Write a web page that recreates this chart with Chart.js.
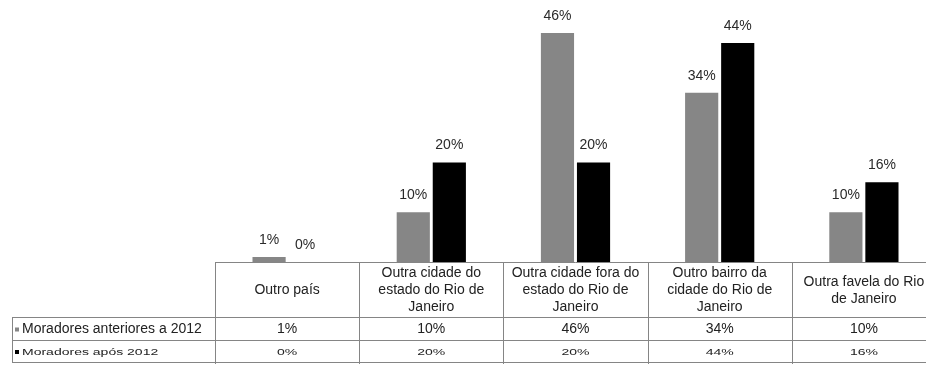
<!DOCTYPE html>
<html>
<head>
<meta charset="utf-8">
<script src="https://cdn.jsdelivr.net/npm/chart.js@4/dist/chart.umd.min.js"></script>
<style>
  html, body { margin: 0; padding: 0; overflow: hidden; background: #fff; }
  #wrap { width: 940px; height: 365px; }
</style>
</head>
<body>
<div id="wrap"><canvas id="c" width="940" height="365"></canvas></div>
<script>
// Origem dos moradores
const categories = [
  "Outro país",
  "Outra cidade do estado do Rio de Janeiro",
  "Outra cidade fora do estado do Rio de Janeiro",
  "Outro bairro da cidade do Rio de Janeiro",
  "Outra favela do Rio de Janeiro"
];
const seriesNames = ["Moradores anteriores a 2012", "Moradores após 2012"];
const before2012 = [1, 10, 46, 34, 10];
const after2012 = [0, 20, 20, 44, 16];
const seriesColors = ["#868686", "#000000"];

const FONT = "Liberation Sans, Arial, sans-serif";
const pct = v => v + "%";

function wrapText(ctx, text, maxW) {
  const words = text.split(" ");
  const lines = [];
  let cur = "";
  for (const w of words) {
    const test = cur ? cur + " " + w : w;
    if (cur && ctx.measureText(test).width > maxW) {
      lines.push(cur);
      cur = w;
    } else {
      cur = test;
    }
  }
  if (cur) lines.push(cur);
  return lines;
}

// value labels above each bar
const valueLabels = {
  id: "valueLabels",
  afterDatasetsDraw(chart) {
    const ctx = chart.ctx;
    ctx.save();
    ctx.font = "14px " + FONT;
    ctx.fillStyle = "#2a2a2a";
    ctx.textAlign = "center";
    ctx.textBaseline = "alphabetic";
    chart.data.datasets.forEach((ds, di) => {
      chart.getDatasetMeta(di).data.forEach((el, i) => {
        ctx.fillText(pct(ds.data[i]), el.x, el.y - 13);
      });
    });
    ctx.restore();
  }
};

// data table under the plot, columns aligned on the category scale
const dataTable = {
  id: "dataTable",
  afterDraw(chart) {
    const { ctx, chartArea } = chart;
    const x = chart.scales.x;
    const n = categories.length;
    const colW = (x.right - x.left) / n;
    const top = chartArea.bottom;
    const rowY = [top, top + 55, top + 78, top + 100];
    const legendLeft = 12;
    const right = x.right;

    ctx.save();
    ctx.strokeStyle = "#858585";
    ctx.lineWidth = 1;
    const hline = (x0, x1, y) => {
      ctx.beginPath(); ctx.moveTo(x0, Math.round(y) + 0.5); ctx.lineTo(x1, Math.round(y) + 0.5); ctx.stroke();
    };
    const vline = (xx, y0, y1) => {
      ctx.beginPath(); ctx.moveTo(Math.round(xx) + 0.5, y0); ctx.lineTo(Math.round(xx) + 0.5, y1); ctx.stroke();
    };
    hline(x.left, right, rowY[0]);
    hline(legendLeft, right, rowY[1]);
    hline(legendLeft, right, rowY[2]);
    hline(legendLeft, right, rowY[3]);
    vline(legendLeft, rowY[1], rowY[3]);
    for (let i = 0; i <= n; i++) {
      vline(x.left + i * colW, rowY[0], rowY[3] + 2);
    }

    ctx.fillStyle = "#222";
    ctx.font = "14px " + FONT;
    ctx.textAlign = "center";
    ctx.textBaseline = "middle";

    // header: category names, wrapped to the column width
    const headMid = (rowY[0] + rowY[1]) / 2 + 1;
    const lh = 17;
    categories.forEach((cat, i) => {
      const cx = x.getPixelForValue(i);
      const lines = wrapText(ctx, cat, colW - 8);
      const y0 = headMid - (lines.length - 1) * lh / 2;
      lines.forEach((ln, k) => ctx.fillText(ln, cx, y0 + k * lh));
    });

    // series rows
    const series = [before2012, after2012];
    const squash = [1, 0.68];
    series.forEach((vals, r) => {
      const mid = (rowY[r + 1] + rowY[r + 2]) / 2 + 1;
      const sy = squash[r];
      // legend key + name
      ctx.fillStyle = seriesColors[r];
      ctx.fillRect(legendLeft + 3, mid - 2, 4, 4);
      ctx.fillStyle = "#222";
      ctx.save();
      ctx.translate(legendLeft + 10, mid);
      ctx.scale(1, sy);
      ctx.textAlign = "left";
      ctx.fillText(seriesNames[r], 0, 0);
      ctx.restore();
      vals.forEach((v, i) => {
        ctx.save();
        ctx.translate(x.getPixelForValue(i), mid);
        ctx.scale(1, sy);
        ctx.fillText(pct(v), 0, 0);
        ctx.restore();
      });
    });
    ctx.restore();
  }
};

new Chart(document.getElementById("c"), {
  type: "bar",
  data: {
    labels: categories,
    datasets: [
      { label: seriesNames[0], data: before2012, backgroundColor: seriesColors[0] },
      { label: seriesNames[1], data: after2012, backgroundColor: seriesColors[1] }
    ]
  },
  options: {
    responsive: false,
    animation: false,
    devicePixelRatio: 1,
    layout: { padding: { left: 215, right: 4, top: 13, bottom: 103 } },
    datasets: { bar: { categoryPercentage: 0.5, barPercentage: 0.92 } },
    scales: {
      x: { display: false },
      y: { display: false, min: 0, max: 50 }
    },
    plugins: {
      legend: { display: false },
      tooltip: { enabled: false }
    }
  },
  plugins: [valueLabels, dataTable]
});
</script>
</body>
</html>
